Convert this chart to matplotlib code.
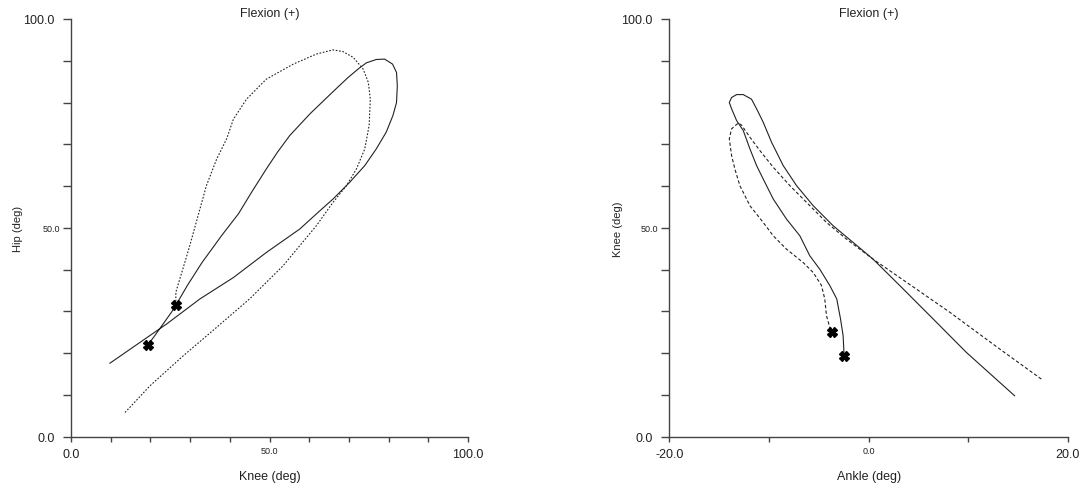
import matplotlib
matplotlib.use("Agg")
import matplotlib.pyplot as plt

plt.rcParams['font.family'] = ['Liberation Sans', 'DejaVu Sans']

# knee vs hip (left panel)
knee_solid = [9.8, 17.4, 24.1, 32.5, 40.9, 49.2, 57.6, 62.7, 66.0, 70.2, 74.0, 76.9, 79.4,
              81.1, 82.0, 82.2, 82.0, 81.0, 79.0, 76.9, 74.4, 72.3, 69.8, 66.0, 60.2, 55.1,
              52.0, 49.2, 45.6, 42.2, 37.9, 33.0, 29.3, 26.6, 25.3, 23.2, 21.1, 19.3]
hip_solid = [17.6, 22.6, 27.0, 33.0, 38.1, 44.1, 49.7, 54.1, 56.9, 60.9, 64.9, 68.9, 72.9,
             76.9, 80.0, 84.0, 87.2, 89.2, 90.4, 90.3, 89.5, 88.0, 86.0, 82.6, 77.3, 72.1,
             68.1, 64.1, 58.7, 53.4, 48.1, 41.7, 36.2, 31.8, 29.8, 27.0, 24.2, 21.9]
knee_dot = [13.6, 19.9, 28.3, 36.7, 45.0, 53.4, 61.8, 66.0, 69.4, 71.9, 74.0, 75.1, 75.4,
            74.9, 73.6, 71.1, 68.5, 66.0, 61.8, 56.0, 49.2, 44.2, 40.9, 39.2, 36.7, 34.1,
            32.0, 29.9, 27.9, 26.4, 26.4]
hip_dot = [5.8, 12.2, 19.4, 26.2, 33.0, 40.9, 50.5, 56.1, 60.1, 64.1, 68.9, 74.5, 80.8,
           84.8, 88.0, 90.8, 92.2, 92.6, 91.6, 89.2, 85.6, 80.8, 76.0, 71.3, 66.5, 60.1,
           52.9, 45.7, 39.3, 34.6, 31.6]
left_marks_x = [19.3, 26.4]
left_marks_y = [21.9, 31.6]

# ankle vs knee (right panel)
ankle_solid = [14.65, 9.8, 6.47, 3.12, 0.45, -1.55, -3.56, -5.56, -7.23, -8.57, -9.74,
               -10.58, -11.24, -11.75, -12.58, -13.25, -13.75, -13.98, -13.75, -13.25,
               -12.58, -11.91, -11.24, -10.58, -9.57, -8.24, -6.9, -5.9, -4.9, -3.9,
               -3.2, -2.82, -2.56, -2.46]
kneeR_solid = [9.8, 20.2, 28.2, 36.2, 42.5, 46.5, 50.5, 55.3, 60.1, 64.9, 70.5, 75.3, 78.5,
               80.8, 81.9, 81.9, 81.2, 80.0, 78.5, 75.7, 73.3, 68.9, 64.9, 61.7, 56.9,
               52.1, 48.1, 43.3, 40.1, 36.2, 33.0, 28.2, 24.2, 19.4]
ankle_dot = [17.33, 13.15, 8.14, 3.12, 0.45, -2.22, -4.23, -6.23, -7.9, -9.57, -10.91,
             -11.91, -12.75, -13.08, -13.75, -13.98, -13.75, -13.42, -12.92, -11.91,
             -10.58, -9.57, -8.24, -6.57, -5.56, -4.73, -4.4, -4.23, -3.9, -3.66]
kneeR_dot = [13.8, 21.0, 29.8, 38.1, 42.5, 47.3, 51.3, 56.1, 60.1, 64.5, 68.5, 71.7, 74.6,
             75.1, 73.7, 71.3, 67.3, 64.1, 60.1, 55.3, 51.3, 48.1, 44.9, 41.7, 39.3,
             36.2, 33.0, 29.0, 26.2, 25.0]
right_marks_x = [-2.46, -3.66]
right_marks_y = [19.4, 25.0]

ink = '#222222'
axis_col = '#444444'


def style(ax, xlim, xticks, xmajor, xlabel, ylabel, ylab_x):
    ax.set_xlim(*xlim)
    ax.set_ylim(0, 100)
    for s in ['top', 'right']:
        ax.spines[s].set_visible(False)
    for s in ['left', 'bottom']:
        ax.spines[s].set_color(axis_col)
        ax.spines[s].set_linewidth(1.0)
    ax.set_xticks(xticks)
    ax.set_xticklabels(['%.1f' % v if v in xmajor else '' for v in xticks])
    yt = list(range(0, 101, 10))
    ax.set_yticks(yt)
    ax.set_yticklabels(['%.1f' % v if v in (0, 50, 100) else '' for v in yt])
    ax.tick_params(axis='x', length=3.6, width=1, color=axis_col, pad=4.5, labelcolor=ink)
    ax.tick_params(axis='y', length=6, width=1, color=axis_col, pad=6, labelcolor=ink)
    for tick, v in zip(ax.xaxis.get_major_ticks(), xticks):
        tick.label1.set_fontsize(6.5 if v == xmajor[1] else 9)
        if v == xmajor[1]:
            tick.set_pad(3)
    for tick, v in zip(ax.yaxis.get_major_ticks(), yt):
        tick.label1.set_fontsize(6.5 if v == 50 else 9)
        if v == 50:
            tick.set_pad(2)
    ax.set_xlabel(xlabel, fontsize=9, color=ink, labelpad=7)
    ax.set_ylabel(ylabel, fontsize=8, color=ink)
    ax.yaxis.set_label_coords(ylab_x, 0.5)
    ax.set_title('Flexion (+)', fontsize=9, color=ink, pad=2)


fig = plt.figure(figsize=(10.83, 4.85), dpi=100)
ax1 = fig.add_axes([0.0656, 0.0975, 0.3665, 0.8613])
ax2 = fig.add_axes([0.618, 0.0975, 0.3681, 0.8613])

ax1.plot(knee_solid, hip_solid, color=ink, lw=0.8)
ax1.plot(knee_dot, hip_dot, color=ink, lw=0.8, ls=(0, (1.5, 1.5)))
ax1.plot(left_marks_x, left_marks_y, ls='none', marker='X', ms=6.5, color='black')
style(ax1, (0, 100), list(range(0, 101, 10)), [0, 50, 100], 'Knee (deg)', 'Hip (deg)', -0.122)

ax2.plot(ankle_solid, kneeR_solid, color=ink, lw=0.8)
ax2.plot(ankle_dot, kneeR_dot, color=ink, lw=0.8, ls=(0, (3, 2)))
ax2.plot(right_marks_x, right_marks_y, ls='none', marker='X', ms=6.5, color='black')
style(ax2, (-20, 20), [-20, -10, 0, 10, 20], [-20, 0, 20], 'Ankle (deg)', 'Knee (deg)', -0.117)

fig.savefig('out.png', dpi=100)
